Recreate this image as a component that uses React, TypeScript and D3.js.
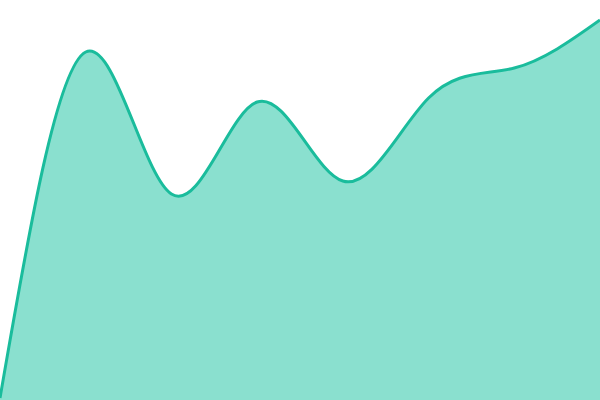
import React, { useEffect, useRef } from "react";
import * as d3 from "d3";

// 8 evenly spaced samples across the full width
const steps = [0, 1, 2, 3, 4, 5, 6, 7];
const values = [2, 348, 206, 298, 219, 302, 332, 380];

const WIDTH = 600;
const HEIGHT = 400;

const App: React.FC = () => {
  const svgRef = useRef<SVGSVGElement>(null);

  useEffect(() => {
    if (!svgRef.current) return;
    const svg = d3.select(svgRef.current);
    svg.selectAll("*").remove();

    const x = d3.scaleLinear().domain([0, steps.length - 1]).range([0, WIDTH]);
    const y = d3.scaleLinear().domain([0, 400]).range([HEIGHT, 0]);

    const data = steps.map((s, i) => ({ s, v: values[i] }));

    const area = d3
      .area<{ s: number; v: number }>()
      .x((d) => x(d.s))
      .y0(HEIGHT)
      .y1((d) => y(d.v))
      .curve(d3.curveNatural);

    const line = d3
      .line<{ s: number; v: number }>()
      .x((d) => x(d.s))
      .y((d) => y(d.v))
      .curve(d3.curveNatural);

    svg
      .append("path")
      .datum(data)
      .attr("d", area)
      .attr("fill", "#8ae0cf");

    svg
      .append("path")
      .datum(data)
      .attr("d", line)
      .attr("fill", "none")
      .attr("stroke", "#1abc9c")
      .attr("stroke-width", 3);
  }, []);

  return (
    <svg
      ref={svgRef}
      width={WIDTH}
      height={HEIGHT}
      style={{ position: "absolute", top: 0, left: 0, display: "block" }}
    ></svg>
  );
};

export default App;
